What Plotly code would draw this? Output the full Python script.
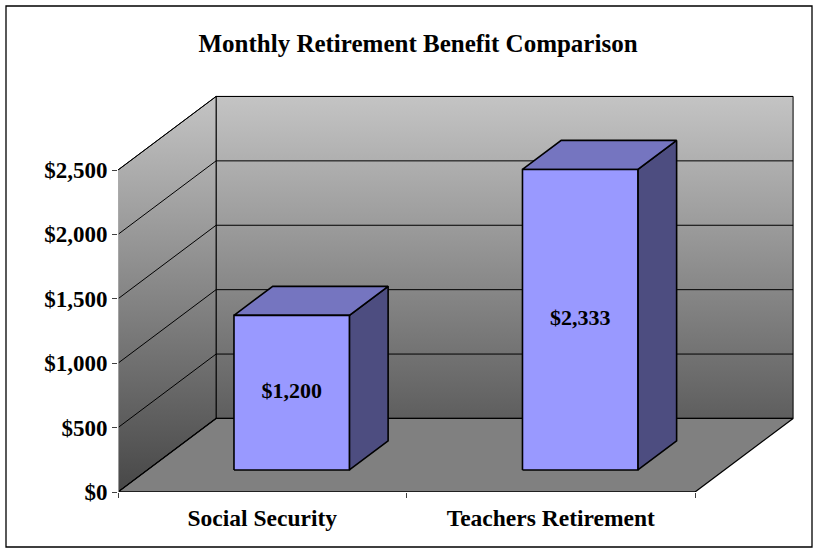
import plotly.graph_objects as go

# ---- data ----
categories = ["Social Security", "Teachers Retirement"]
benefits = [1200, 2333]
tick_values = [0, 500, 1000, 1500, 2000, 2500]
tick_labels = [f"${v:,}" for v in tick_values]
title_text = "Monthly Retirement Benefit Comparison"

# ---- pseudo-3D geometry (styles / projection) ----
DEPTH_X = 0.34      # depth shift in category units
DEPTH_Y = 571       # depth shift in value units
BAR_WIDTH = 0.40
BAR_FRONT = 0.30
BAR_BACK = 0.695
N = len(categories)
WALL_TOP = max(tick_values)
FONT = "Liberation Serif"


def P(x, y, d):
    return x + d * DEPTH_X, y + d * DEPTH_Y


def poly(pts):
    xs = [p[0] for p in pts] + [pts[0][0]]
    ys = [p[1] for p in pts] + [pts[0][1]]
    return xs, ys


fig = go.Figure()
grad = dict(type="vertical", colorscale=[[0, "#474747"], [1, "#c4c4c4"]],
            start=0, stop=WALL_TOP + DEPTH_Y)

# back wall
xs, ys = poly([P(0, 0, 1), P(N, 0, 1), P(N, WALL_TOP, 1), P(0, WALL_TOP, 1)])
fig.add_trace(go.Scatter(x=xs, y=ys, mode="lines", fill="toself", fillgradient=grad,
                         line=dict(color="black", width=1), hoverinfo="skip"))
# left wall
xs, ys = poly([P(0, 0, 0), P(0, 0, 1), P(0, WALL_TOP, 1), P(0, WALL_TOP, 0)])
fig.add_trace(go.Scatter(x=xs, y=ys, mode="lines", fill="toself", fillgradient=grad,
                         line=dict(color="black", width=1), hoverinfo="skip"))
# floor
xs, ys = poly([P(0, 0, 0), P(N, 0, 0), P(N, 0, 1), P(0, 0, 1)])
fig.add_trace(go.Scatter(x=xs, y=ys, mode="lines", fill="toself", fillcolor="#808080",
                         line=dict(color="black", width=1.3), hoverinfo="skip"))

# gridlines
gx, gy = [], []
for v in tick_values:
    for a, b in [(P(0, v, 0), P(0, v, 1)), (P(0, v, 1), P(N, v, 1))]:
        gx += [a[0], b[0], None]
        gy += [a[1], b[1], None]
fig.add_trace(go.Scatter(x=gx, y=gy, mode="lines", line=dict(color="black", width=1),
                         hoverinfo="skip"))
# front-left edge (light)
fig.add_trace(go.Scatter(x=[0, 0], y=[0, WALL_TOP], mode="lines",
                         line=dict(color="#e6e6e6", width=1.2), hoverinfo="skip"))

# bars
FRONT_C, TOP_C, SIDE_C = "#9999ff", "#7575c0", "#4d4d80"
for i, v in enumerate(benefits):
    x0 = i + 0.5 - BAR_WIDTH / 2
    x1 = i + 0.5 + BAR_WIDTH / 2
    side = [P(x1, 0, BAR_FRONT), P(x1, 0, BAR_BACK), P(x1, v, BAR_BACK), P(x1, v, BAR_FRONT)]
    top = [P(x0, v, BAR_FRONT), P(x1, v, BAR_FRONT), P(x1, v, BAR_BACK), P(x0, v, BAR_BACK)]
    front = [P(x0, 0, BAR_FRONT), P(x1, 0, BAR_FRONT), P(x1, v, BAR_FRONT), P(x0, v, BAR_FRONT)]
    for pts, col in [(side, SIDE_C), (top, TOP_C), (front, FRONT_C)]:
        xs, ys = poly(pts)
        fig.add_trace(go.Scatter(x=xs, y=ys, mode="lines", fill="toself", fillcolor=col,
                                 line=dict(color="black", width=1.6), hoverinfo="skip"))
    cx, cy = P(i + 0.5, v / 2, BAR_FRONT)
    fig.add_trace(go.Scatter(x=[cx], y=[cy], mode="text", text=[f"${v:,.0f}"],
                             textposition="middle center",
                             textfont=dict(family=FONT, size=22, color="black", weight="bold"),
                             hoverinfo="skip"))

W, H = 820, 551
L, R, T, B = 118, 20, 90, 59
pw, ph = W - L - R, H - T - B
x_per_px = N / 577.0
y_per_px = WALL_TOP / 322.0


def px_x(px):
    return (px - L) / pw


def px_y(py):
    return (H - B - py) / ph


fig.update_layout(
    width=W, height=H,
    margin=dict(l=L, r=R, t=T, b=B),
    paper_bgcolor="white", plot_bgcolor="white",
    showlegend=False,
    title=dict(text=title_text, x=418 / W, xanchor="center", y=1 - 43 / H, yanchor="middle",
               xref="container", yref="container",
               font=dict(family=FONT, size=25, color="black", weight="bold")),
    xaxis=dict(range=[0, pw * x_per_px], showgrid=False, zeroline=False, showline=False,
               tickmode="array", tickvals=[i + 0.5 for i in range(N)], ticktext=categories,
               ticks="", ticklabelstandoff=9,
               tickfont=dict(family=FONT, size=23.5, color="black", weight="bold"),
               minor=dict(tickmode="array", tickvals=list(range(N + 1)), ticks="outside",
                          ticklen=5, tickcolor="#404040", showgrid=False),
               fixedrange=True),
    yaxis=dict(range=[0, ph * y_per_px], showgrid=False, zeroline=False, showline=False,
               tickmode="array", tickvals=tick_values, ticktext=tick_labels,
               ticks="outside", ticklen=5, tickcolor="#404040", ticklabelstandoff=0,
               tickfont=dict(family=FONT, size=23, color="black", weight="bold"),
               fixedrange=True),
    shapes=[dict(type="rect", xref="paper", yref="paper",
                 x0=px_x(6), x1=px_x(812), y0=px_y(547), y1=px_y(6),
                 line=dict(color="black", width=1.3), fillcolor="rgba(0,0,0,0)")],
)

fig.write_html("out.html", config={"displayModeBar": False},
               post_script="document.body.style.margin='0';")
